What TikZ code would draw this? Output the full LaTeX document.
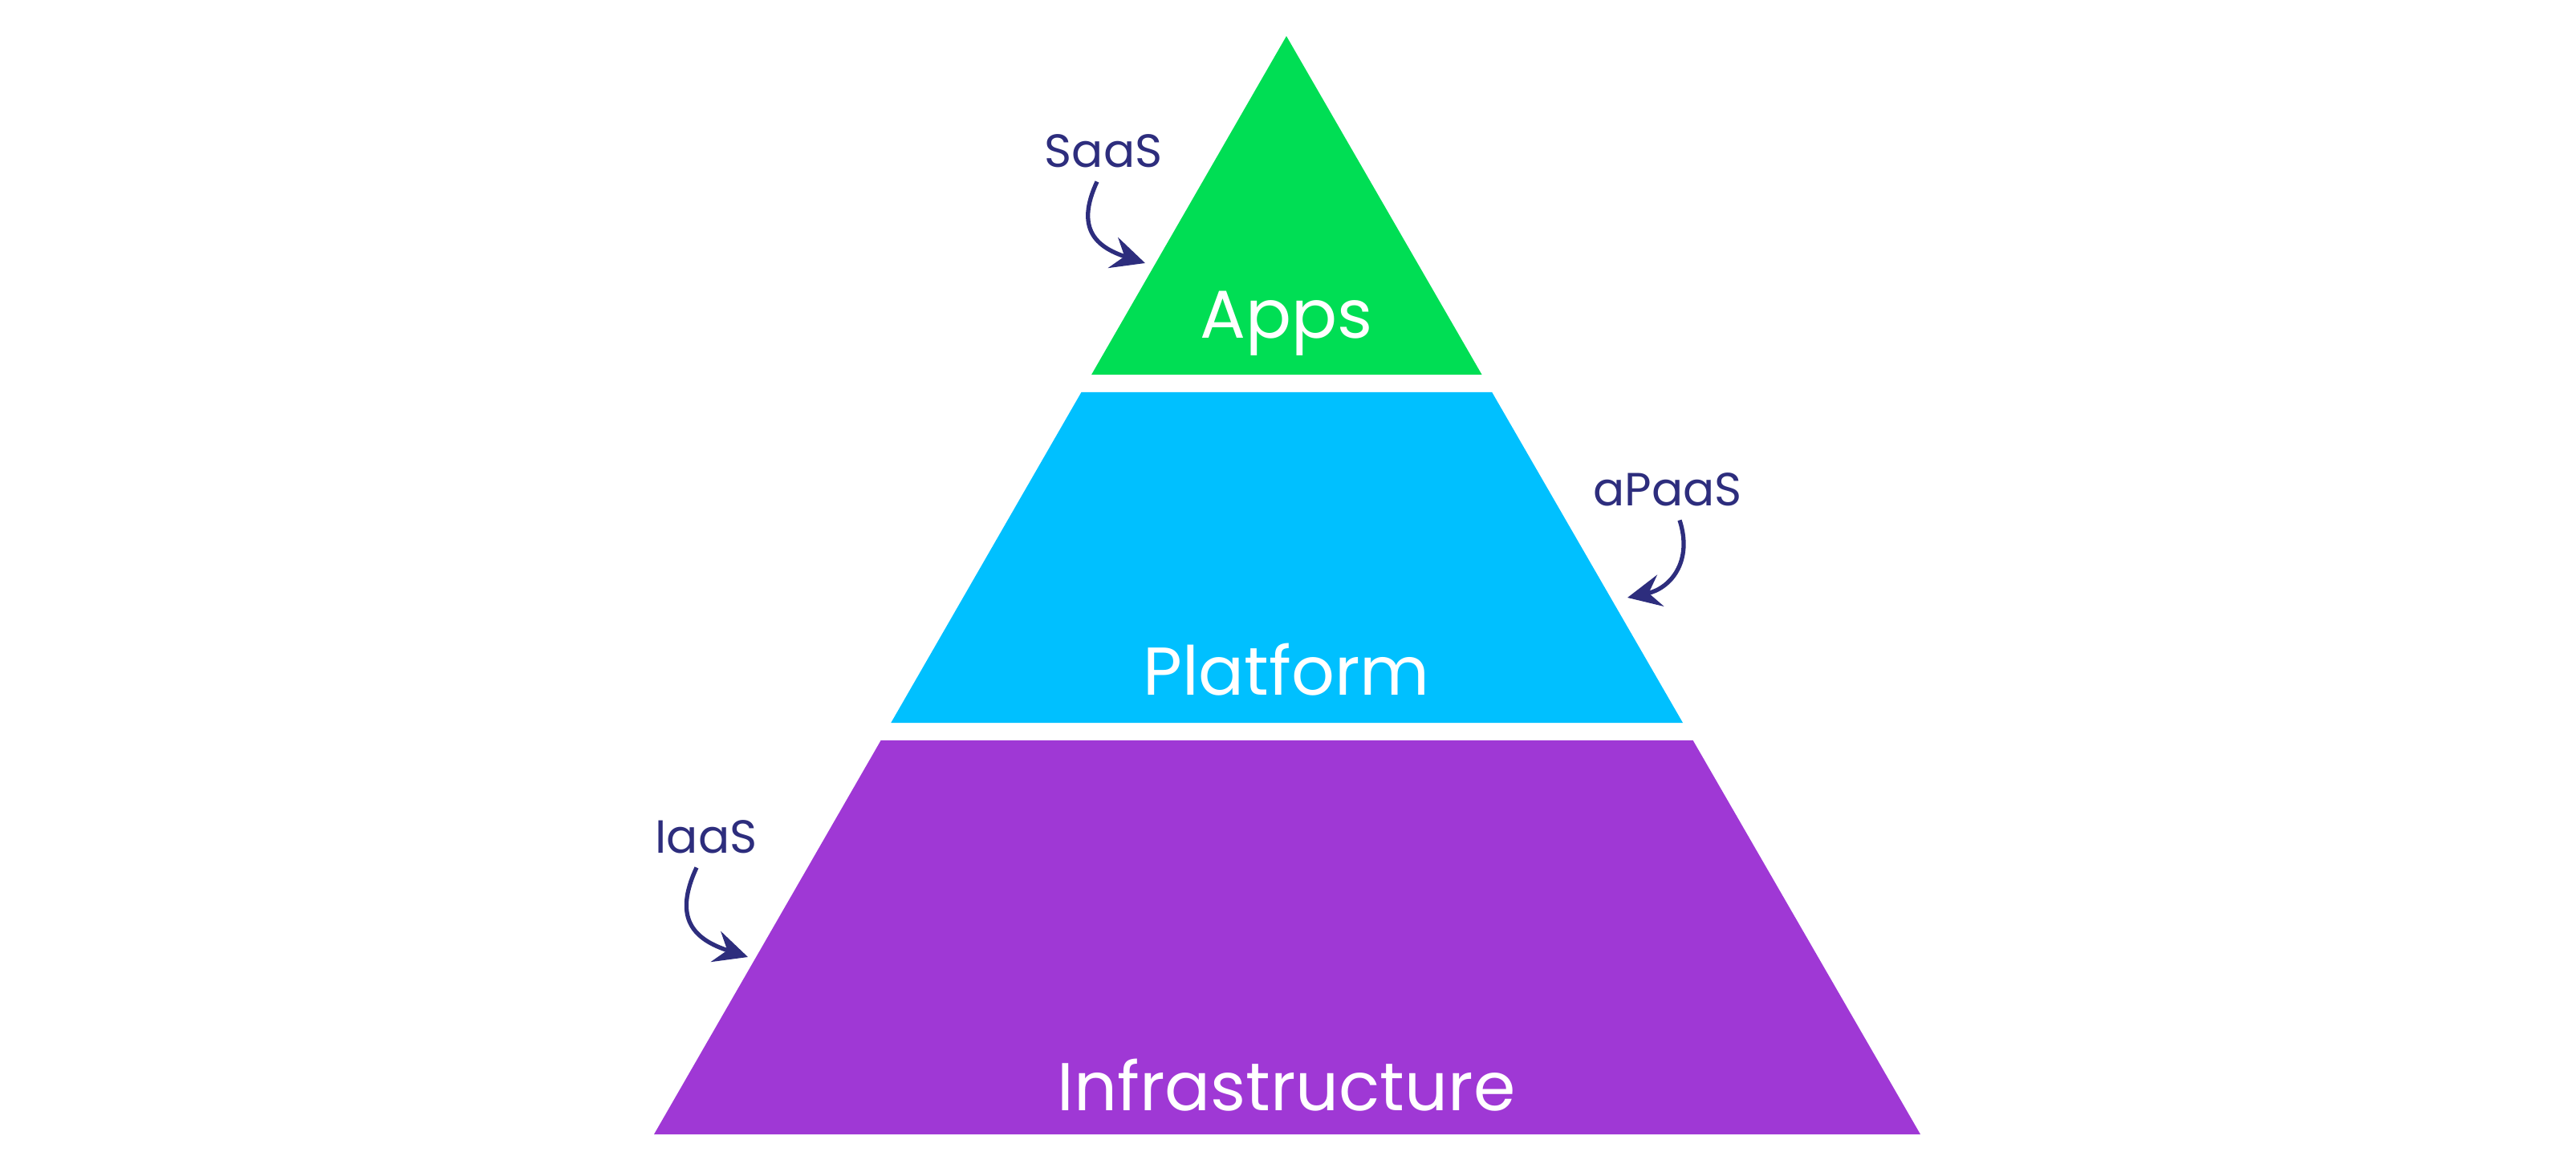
\documentclass[tikz,border=0pt]{standalone}
\usepackage{fontspec}
\setmainfont{Poppins}
\usetikzlibrary{calc,arrows.meta}

\definecolor{appsgreen}{RGB}{0,222,84}
\definecolor{platblue}{RGB}{0,192,255}
\definecolor{infrapurple}{RGB}{159,56,213}
\definecolor{labelnavy}{RGB}{45,45,125}

\begin{document}
\begin{tikzpicture}[
  tier/.style={font=\fontsize{24}{28}\selectfont, text=white, inner sep=2pt},
  service/.style={font=\fontsize{16.5}{20}\selectfont, text=labelnavy, inner sep=2pt},
  curvearr/.style={-{Stealth[length=4.2mm, width=4mm, inset=1.5mm]},
                   labelnavy, line width=1.5pt}
]
  \useasboundingbox (0,0) rectangle (32.1,14.6);

  % pyramid corners
  \coordinate (top) at (16.03,14.15);
  \coordinate (bl) at (8.15,0.46);
  \coordinate (br) at (23.93,0.46);

  \fill[appsgreen] (top) -- ($(top)!0.3083!(br)$) -- ($(top)!0.3083!(bl)$) -- cycle;
  \fill[platblue] ($(top)!0.3243!(bl)$) -- ($(top)!0.3243!(br)$)
                  -- ($(top)!0.6253!(br)$) -- ($(top)!0.6253!(bl)$) -- cycle;
  \fill[infrapurple] ($(top)!0.6413!(bl)$) -- ($(top)!0.6413!(br)$)
                  -- (br) -- (bl) -- cycle;

  \node[tier] (apps) at (16.03,10.57) {Apps};
  \node[tier] (platform) at (16.03,6.25) {Platform};
  \node[tier] (infra) at (16.03,1.07) {Infrastructure};

  \node[service] (saas) at (13.75,12.72) {SaaS};
  \node[service] (apaas) at (20.78,8.50) {aPaaS};
  \node[service] (iaas) at (8.80,4.17) {IaaS};

  \coordinate (saastip) at (14.27,11.32);
  \coordinate (apaastip) at (20.28,7.15);
  \coordinate (iaastip) at (9.32,2.67);

  \draw[curvearr] ([xshift=-0.8mm, yshift=-1mm]saas.south) to[out=245, in=162, looseness=1.4] (saastip);
  \draw[curvearr] ([xshift=1.5mm, yshift=-1mm]apaas.south) to[out=-72, in=12, looseness=1.2] (apaastip);
  \draw[curvearr] ([xshift=-1.2mm, yshift=-1mm]iaas.south) to[out=245, in=162, looseness=1.4] (iaastip);
\end{tikzpicture}
\end{document}
